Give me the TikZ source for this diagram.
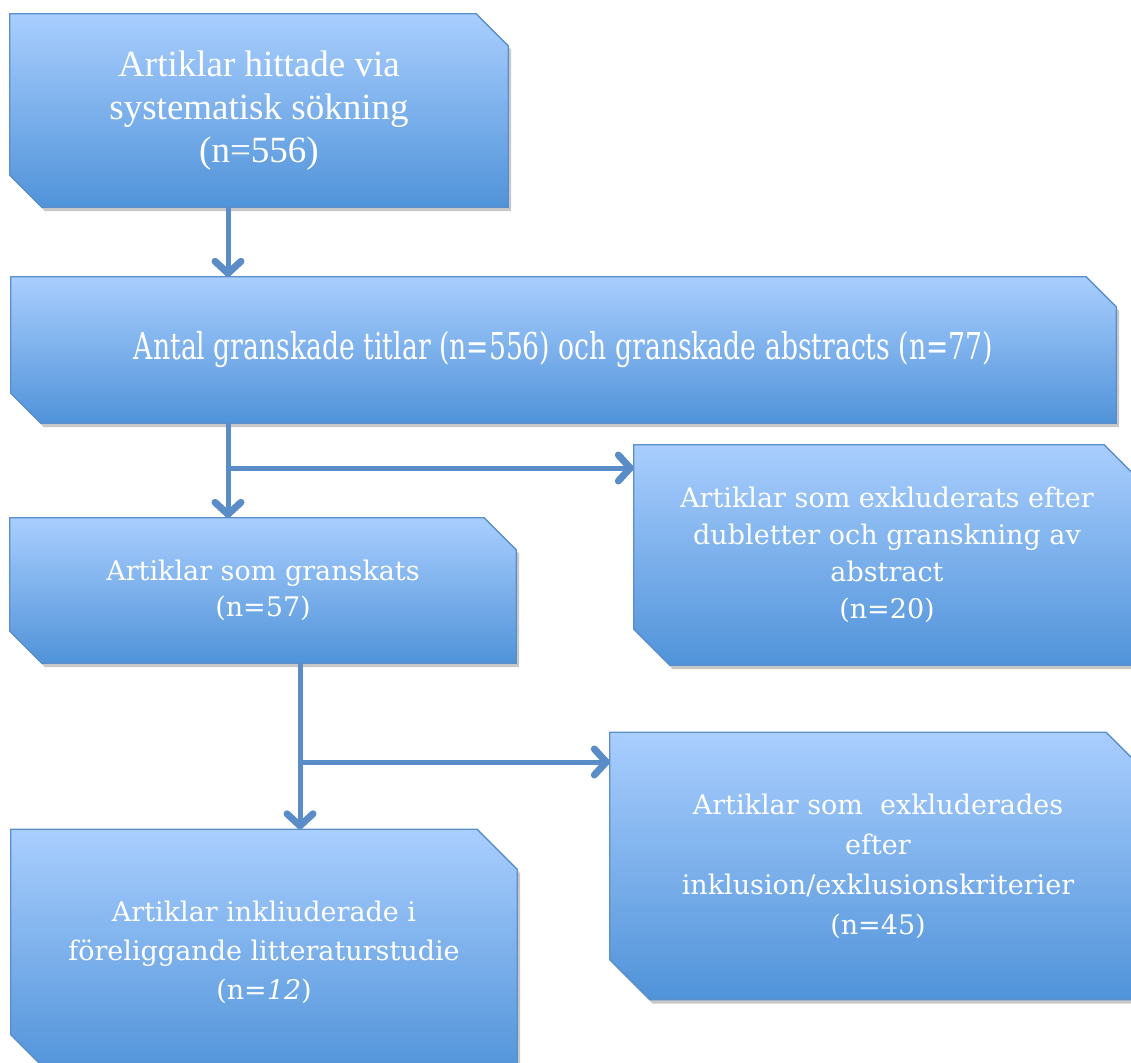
\documentclass[tikz,border=0pt]{standalone}
\usepackage{fontspec}
\setmainfont{Liberation Serif}
\newfontfamily\cambriafont{DejaVu Serif}
\newfontfamily\narrowfont[FakeStretch=0.72]{DejaVu Serif}
\usetikzlibrary{arrows.meta,backgrounds}
\definecolor{boxTop}{HTML}{A9CEFE}
\definecolor{boxBottom}{HTML}{5093D9}
\definecolor{boxLine}{HTML}{5B8FCC}
\definecolor{flowBlue}{HTML}{5A8DC8}
\tikzset{
  snipbox/.style={rectangle, inner sep=0pt, text=white, align=center},
  arrow/.style={-{Straight Barb[length=12pt,width=26pt,line width=7pt,round]}, line width=5pt, draw=flowBlue}
}
% outline with cut north east and south west corners: name, cut, dx, dy
\newcommand{\snipshape}[4]{([xshift=#3, yshift=#4]#1.north west) -- ([xshift=#3-#2, yshift=#4]#1.north east) -- ([xshift=#3, yshift=#4-#2]#1.north east) -- ([xshift=#3, yshift=#4]#1.south east) -- ([xshift=#3+#2, yshift=#4]#1.south west) -- ([xshift=#3, yshift=#4+#2]#1.south west) -- cycle}
\begin{document}
\begin{tikzpicture}[x=1pt, y=-1pt]
\useasboundingbox (0,0) rectangle (1131,1062);
\node[snipbox, minimum width=498pt, minimum height=193pt, font=\fontsize{37}{43}\selectfont] (hittade) at (259,110.5) {Artiklar hittade via\\systematisk sökning\\(n=556)};
\node[snipbox, minimum width=1105pt, minimum height=146pt, font=\narrowfont\fontsize{37}{42}\selectfont] (granskade) at (563.5,350) {Antal granskade titlar (n=556) och granskade abstracts (n=77)};
\node[snipbox, minimum width=506pt, minimum height=145pt, font=\cambriafont\fontsize{27}{36}\selectfont] (granskats) at (263,590.5) {Artiklar som granskats\\(n=57)};
\node[snipbox, minimum width=506pt, minimum height=220pt, font=\cambriafont\fontsize{27}{37}\selectfont] (dubletter) at (887,555) {Artiklar som exkluderats efter\\dubletter och granskning av\\abstract\\(n=20)};
\node[snipbox, minimum width=506pt, minimum height=245pt, font=\cambriafont\fontsize{27}{39}\selectfont] (inkluderade) at (264,952) {Artiklar inkliuderade i\\föreliggande litteraturstudie\\(n=\textit{12})};
\node[snipbox, minimum width=536pt, minimum height=267pt, font=\cambriafont\fontsize{27}{40}\selectfont] (kriterier) at (878,866) {Artiklar som\ \ exkluderades\\efter\\inklusion/exklusionskriterier\\(n=45)};
\begin{scope}[on background layer]
\foreach \n/\c in {hittade/32, granskade/30, granskats/32, dubletter/36, inkluderade/40, kriterier/40}{
  \fill[black, opacity=0.22] \snipshape{\n}{\c pt}{3pt}{-4pt};
  \draw[boxLine, line width=1.3pt, top color=boxTop, bottom color=boxBottom] \snipshape{\n}{\c pt}{0pt}{0pt};
}
\end{scope}
\coordinate (stem1) at (228,468);
\coordinate (stem2) at (300,762);
\draw[arrow] (hittade.south -| stem1) -- (granskade.north -| stem1);
\draw[arrow] (granskade.south -| stem1) -- (granskats.north -| stem1);
\draw[arrow] (stem1) -- (dubletter.west |- stem1);
\draw[arrow] (granskats.south -| stem2) -- (inkluderade.north -| stem2);
\draw[arrow] (stem2) -- (kriterier.west |- stem2);
\end{tikzpicture}
\end{document}
